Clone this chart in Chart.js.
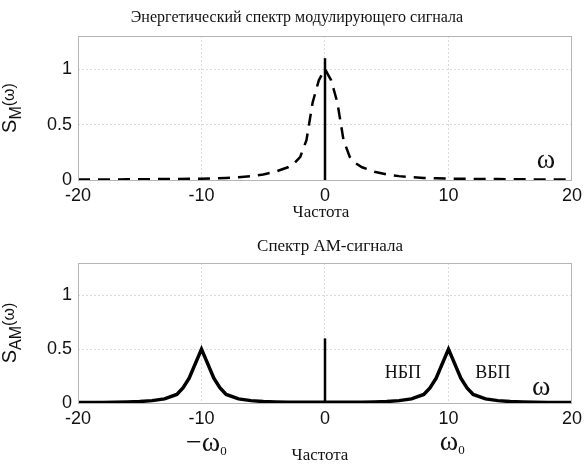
<!DOCTYPE html>
<html>
<head>
<meta charset="utf-8">
<script src="https://cdn.jsdelivr.net/npm/chart.js@4.4.0/dist/chart.umd.min.js"></script>
<style>
    body { margin: 0; background: #fff; }
    #wrap { position: relative; width: 587px; height: 466px; }
    .panel { position: absolute; left: 0; width: 587px; height: 233px; }
</style>
</head>
<body>
<div id="wrap">
    <div class="panel" style="top:0"><canvas id="specM"></canvas></div>
    <div class="panel" style="top:233px"><canvas id="specAM"></canvas></div>
</div>
<script>
// Energy spectrum of the modulating signal (dashed)
const freqM = [-20, -18, -16, -14, -12, -10, -9, -8, -7, -6, -5, -4, -3, -2.5, -2, -1.5, -1, -0.5,
    0, 0.5, 1, 1.5, 2, 2.5, 3, 4, 5, 6, 7, 8, 9, 10, 12, 14, 16, 18, 20];
const valuesM = [0.004, 0.005, 0.006, 0.008, 0.01, 0.012, 0.015, 0.019, 0.025, 0.035, 0.05, 0.075, 0.115, 0.15, 0.21, 0.36, 0.7, 0.9,
    1, 0.9, 0.7, 0.36, 0.21, 0.15, 0.115, 0.075, 0.05, 0.035, 0.025, 0.019, 0.015, 0.012, 0.01, 0.008, 0.006, 0.005, 0.004];

// AM signal spectrum (solid)
const freqAM = [-20, -19, -18, -17, -16, -15, -14, -13, -12, -11.5, -11, -10, -9, -8.5, -8, -7, -6, -5, -4, -3, -2, -1,
    0, 1, 2, 3, 4, 5, 6, 7, 8, 8.5, 9, 10, 11, 11.5, 12, 13, 14, 15, 16, 17, 18, 19, 20];
const valuesAM = [0.004, 0.004, 0.005, 0.007, 0.01, 0.014, 0.022, 0.038, 0.08, 0.14, 0.23, 0.5, 0.23, 0.14, 0.08, 0.038, 0.022, 0.014, 0.01, 0.008, 0.007, 0.007,
    0.008, 0.007, 0.007, 0.008, 0.01, 0.014, 0.022, 0.038, 0.08, 0.14, 0.23, 0.5, 0.23, 0.14, 0.08, 0.038, 0.022, 0.014, 0.01, 0.007, 0.005, 0.004, 0.004];

// carrier / DC spikes at zero frequency
const spikeX = [0, 0];
const spikeM = [0, 1.1];
const spikeAM = [0, 0.6];

const xTicks = [-20, -10, 0, 10, 20];
const yTicks = [0, 0.5, 1];

const SANS = '"Liberation Sans", Arial, sans-serif';
const SERIF = '"Liberation Serif", "Times New Roman", serif';

function toPoints(xs, ys) {
    return xs.map((x, i) => ({ x: x, y: ys[i] }));
}

function text(ctx, str, x, y, font, align = 'center') {
    ctx.font = font;
    ctx.textAlign = align;
    ctx.textBaseline = 'alphabetic';
    ctx.fillStyle = '#111';
    ctx.fillText(str, x, y);
}

// rotated y label: S, subscript, (ω)
function yLabel(ctx, cx, cy, sub) {
    const parts = [
        { s: 'S', f: '20px ' + SANS, dy: 0 },
        { s: sub, f: '16px ' + SANS, dy: 5 },
        { s: '(ω)', f: '16px ' + SANS, dy: -2 }
    ];
    let total = 0;
    parts.forEach(p => { ctx.font = p.f; p.w = ctx.measureText(p.s).width; total += p.w; });
    ctx.save();
    ctx.translate(cx, cy);
    ctx.rotate(-Math.PI / 2);
    let x = -total / 2;
    parts.forEach(p => {
        ctx.font = p.f;
        ctx.textAlign = 'left';
        ctx.textBaseline = 'alphabetic';
        ctx.fillStyle = '#111';
        ctx.fillText(p.s, x, p.dy);
        x += p.w;
    });
    ctx.restore();
}

// omega with subscript 0
function omega0(ctx, prefix, cx, y) {
    const big = '28px ' + SERIF, small = '13px ' + SERIF;
    ctx.font = big;
    const w1 = ctx.measureText(prefix + 'ω').width;
    ctx.font = small;
    const w2 = ctx.measureText('0').width;
    let x = cx - (w1 + w2) / 2;
    text(ctx, prefix + 'ω', x, y, big, 'left');
    text(ctx, '0', x + w1, y + 4, small, 'left');
}

function framePlugin(draw) {
    return {
        id: 'frame',
        afterDraw(chart) {
            const { ctx, chartArea: a } = chart;
            ctx.save();
            ctx.strokeStyle = '#b5b5b5';
            ctx.lineWidth = 1;
            ctx.strokeRect(a.left + 0.5, a.top + 0.5, a.right - a.left - 1, a.bottom - a.top);
            draw(chart, ctx, a, chart.scales.x, chart.scales.y);
            ctx.restore();
        }
    };
}

function makeChart(id, datasets, padTop, xHeight, drawText) {
    return new Chart(document.getElementById(id).getContext('2d'), {
        type: 'line',
        data: { datasets: datasets },
        options: {
            responsive: true,
            maintainAspectRatio: false,
            devicePixelRatio: 1,
            animation: false,
            layout: { padding: { left: 28, right: 12, top: padTop, bottom: 0 } },
            plugins: { legend: { display: false }, tooltip: { enabled: false } },
            elements: { point: { radius: 0 }, line: { tension: 0 } },
            scales: {
                x: {
                    type: 'linear',
                    min: -20,
                    max: 20,
                    afterBuildTicks: s => { s.ticks = xTicks.map(v => ({ value: v })); },
                    afterFit: s => { s.height = xHeight; },
                    grid: { color: '#dcdcdc', drawTicks: false },
                    border: { display: false, dash: [2, 2] },
                    ticks: { color: '#111', padding: 5, font: { family: SANS, size: 18 } }
                },
                y: {
                    min: 0,
                    max: 1.3,
                    afterBuildTicks: s => { s.ticks = yTicks.map(v => ({ value: v })); },
                    afterFit: s => { s.width = 50; },
                    grid: { color: '#dcdcdc', drawTicks: false },
                    border: { display: false, dash: [2, 2] },
                    ticks: {
                        color: '#111',
                        padding: 6,
                        font: { family: SANS, size: 18 },
                        callback: v => String(v)
                    }
                }
            }
        },
        plugins: [framePlugin(drawText)]
    });
}

document.addEventListener('DOMContentLoaded', () => {
    // top panel
    makeChart('specM', [
        {
            data: toPoints(freqM, valuesM),
            borderColor: '#000',
            borderWidth: 2.5,
            borderDash: [12, 8]
        },
        {
            data: toPoints(spikeX, spikeM),
            borderColor: '#000',
            borderWidth: 2.5
        }
    ], 36, 53, (chart, ctx, a, x, y) => {
        text(ctx, 'Энергетический спектр модулирующего сигнала', 297, 22, '16px ' + SERIF);
        text(ctx, 'Частота', x.getPixelForValue(0) - 4, a.bottom + 37, '17px ' + SERIF);
        text(ctx, 'ω', x.getPixelForValue(17.9), y.getPixelForValue(0.11), '28px ' + SERIF);
        yLabel(ctx, 16, (a.top + a.bottom) / 2, 'M');
    });

    // bottom panel
    makeChart('specAM', [
        {
            data: toPoints(freqAM, valuesAM),
            borderColor: '#000',
            borderWidth: 3.5
        },
        {
            data: toPoints(spikeX, spikeAM),
            borderColor: '#000',
            borderWidth: 2.5
        }
    ], 30, 63, (chart, ctx, a, x, y) => {
        text(ctx, 'Спектр АМ-сигнала', 330, 18, '17px ' + SERIF);
        text(ctx, 'НБП', x.getPixelForValue(6.3), y.getPixelForValue(0.23), '18px ' + SERIF);
        text(ctx, 'ВБП', x.getPixelForValue(13.6), y.getPixelForValue(0.23), '18px ' + SERIF);
        text(ctx, 'ω', x.getPixelForValue(17.5), y.getPixelForValue(0.07), '28px ' + SERIF);
        omega0(ctx, '−', x.getPixelForValue(-9.6), a.bottom + 48);
        omega0(ctx, '', x.getPixelForValue(10.3), a.bottom + 47);
        text(ctx, 'Частота', x.getPixelForValue(0) - 5, a.bottom + 57, '17px ' + SERIF);
        yLabel(ctx, 16, (a.top + a.bottom) / 2, 'AM');
    });
});
</script>
</body>
</html>
